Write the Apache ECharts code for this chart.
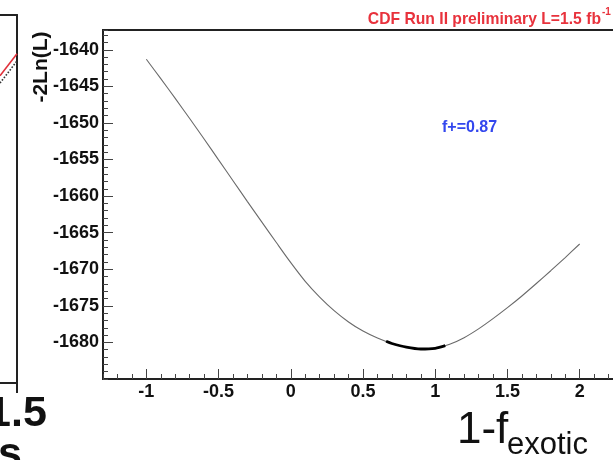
<!DOCTYPE html>
<html>
<head>
<meta charset="utf-8">
<script src="https://cdn.jsdelivr.net/npm/echarts@6/dist/echarts.min.js"></script>
<style>
html,body{margin:0;padding:0;background:#fff;}
#c{width:613px;height:460px;}
</style>
</head>
<body>
<div id="c"></div>
<script>
// ---- data ----
var curveX = [-1.0,-0.9,-0.8,-0.7,-0.6,-0.5,-0.4,-0.3,-0.2,-0.1,0.0,0.1,0.2,0.3,0.4,0.5,0.6,0.7,0.8,0.9,1.0,1.1,1.2,1.3,1.4,1.5,1.6,1.7,1.8,1.9,2.0];
var curveY = [-1641.3,-1643.95,-1646.65,-1649.4,-1652.2,-1655.05,-1657.9,-1660.75,-1663.55,-1666.35,-1669.1,-1671.65,-1673.8,-1675.65,-1677.2,-1678.45,-1679.4,-1680.15,-1680.65,-1680.9,-1680.8,-1680.25,-1679.35,-1678.15,-1676.75,-1675.25,-1673.65,-1671.95,-1670.2,-1668.4,-1666.55];
var bandX = [0.66,0.7,0.8,0.9,1.0,1.07];
var bandY = [-1679.85,-1680.15,-1680.65,-1680.9,-1680.8,-1680.45];
var xTickLabels = [-1,-0.5,0,0.5,1,1.5,2];
var yTickLabels = [-1680,-1675,-1670,-1665,-1660,-1655,-1650,-1645,-1640];
// fragment of the neighbouring panel (left edge)
var fragX = [1.3725,1.5];
var fragRedY = [0.835,0.895];
var fragDotY = [0.815,0.875];
var fragTickLabels = [1.5];

function zip(a,b){return a.map(function(v,i){return [v,b[i]];});}
function plain(v){return String(v);}

var FONT = 'Liberation Sans, Arial, Helvetica, sans-serif';
var TICK = {color:'#444', width:1};
var chart = echarts.init(document.getElementById('c'), null, {renderer:'canvas'});
var frameLine = {show:true, onZero:false, lineStyle:{color:'#222', width:2}};
var option = {
  animation:false,
  backgroundColor:'#fff',
  grid:[
    {left:103, top:30, width:520, height:349, show:true, borderColor:'#222', borderWidth:2, backgroundColor:'transparent',
     containLabel:false, outerBoundsMode:'none'},
    {left:0, top:15, width:17, height:368, show:false, containLabel:false, outerBoundsMode:'none'}
  ],
  xAxis:[
    {type:'value', gridIndex:0, position:'bottom', min:-1.3, max:2.3,
     axisLine:{show:false, onZero:false}, splitLine:{show:false},
     axisTick:{show:true, inside:true, length:10, customValues:xTickLabels, lineStyle:TICK},
     axisLabel:{show:true, margin:4, customValues:xTickLabels, fontFamily:FONT, fontWeight:'bold', fontSize:18, color:'#111',
       formatter:plain}},
    {type:'value', gridIndex:0, position:'bottom', min:-1.3, max:2.3, interval:0.1,
     axisLine:{show:false, onZero:false}, splitLine:{show:false}, axisLabel:{show:false},
     axisTick:{show:true, inside:true, length:5, lineStyle:TICK}},
    {type:'value', gridIndex:1, min:1.3725, max:1.5, position:'bottom',
     axisLine:frameLine, splitLine:{show:false},
     axisTick:{show:true, inside:false, length:10, customValues:fragTickLabels, lineStyle:{color:'#222',width:2}},
     axisLabel:{show:true, margin:10, customValues:fragTickLabels, fontFamily:FONT, fontWeight:'bold', fontSize:43, color:'#111',
       formatter:plain}},
    {type:'value', gridIndex:1, min:1.3725, max:1.5, position:'top',
     axisLine:frameLine, splitLine:{show:false}, axisTick:{show:false}, axisLabel:{show:false}}
  ],
  yAxis:[
    {type:'value', gridIndex:0, position:'left', min:-1685, max:-1637.3,
     axisLine:{show:false, onZero:false}, splitLine:{show:false},
     axisTick:{show:true, inside:true, length:10, customValues:yTickLabels, lineStyle:TICK},
     axisLabel:{show:true, margin:4, customValues:yTickLabels, fontFamily:FONT, fontWeight:'bold', fontSize:18, color:'#111',
       formatter:plain}},
    {type:'value', gridIndex:0, position:'left', min:-1685, max:-1637.3, interval:1,
     axisLine:{show:false, onZero:false}, splitLine:{show:false}, axisLabel:{show:false},
     axisTick:{show:true, inside:true, length:5, lineStyle:TICK}},
    {type:'value', gridIndex:1, min:0, max:1, position:'right',
     axisLine:frameLine, splitLine:{show:false}, axisLabel:{show:false}, axisTick:{show:false}}
  ],
  series:[
    {type:'line', xAxisIndex:0, yAxisIndex:0, data:zip(curveX,curveY), smooth:0.3, showSymbol:false, symbol:'none',
     lineStyle:{color:'#6a6a6a', width:1.1}, z:3},
    {type:'line', xAxisIndex:0, yAxisIndex:0, data:zip(bandX,bandY), smooth:0.3, showSymbol:false, symbol:'none',
     lineStyle:{color:'#000', width:2.8}, z:4},
    {type:'line', xAxisIndex:2, yAxisIndex:2, data:zip(fragX,fragRedY), showSymbol:false, symbol:'none',
     lineStyle:{color:'#e0303a', width:1.6}},
    {type:'line', xAxisIndex:2, yAxisIndex:2, data:zip(fragX,fragDotY), showSymbol:false, symbol:'none',
     lineStyle:{color:'#333', width:1.6, type:'dotted'}}
  ],
  graphic:[
    {type:'text', x:601, y:20, style:{text:'CDF Run II preliminary L=1.5 fb', fontFamily:FONT, fontWeight:'bold', fontSize:15.7,
      fill:'#e8323c', align:'right', verticalAlign:'middle'}},
    {type:'text', x:602, y:12, style:{text:'-1', fontFamily:FONT, fontWeight:'bold', fontSize:10,
      fill:'#e8323c', align:'left', verticalAlign:'middle'}},
    {type:'text', x:442, y:128, style:{text:'f+=0.87', fontFamily:FONT, fontWeight:'bold', fontSize:16,
      fill:'#3347ee', align:'left', verticalAlign:'middle'}},
    {type:'text', x:41, y:67, rotation:Math.PI/2, style:{text:'-2Ln(L)', fontFamily:FONT, fontWeight:'bold', fontSize:21,
      fill:'#111', align:'center', verticalAlign:'middle'}},
    {type:'text', x:457, y:431, style:{text:'1-f', fontFamily:FONT, fontSize:44,
      fill:'#111', align:'left', verticalAlign:'middle'}},
    {type:'text', x:507, y:445, style:{text:'exotic', fontFamily:FONT, fontSize:31,
      fill:'#111', align:'left', verticalAlign:'middle'}},
    {type:'text', x:-2, y:455, style:{text:'s', fontFamily:FONT, fontWeight:'bold', fontSize:43,
      fill:'#111', align:'left', verticalAlign:'middle'}}
  ]
};
chart.setOption(option);
</script>
</body>
</html>
